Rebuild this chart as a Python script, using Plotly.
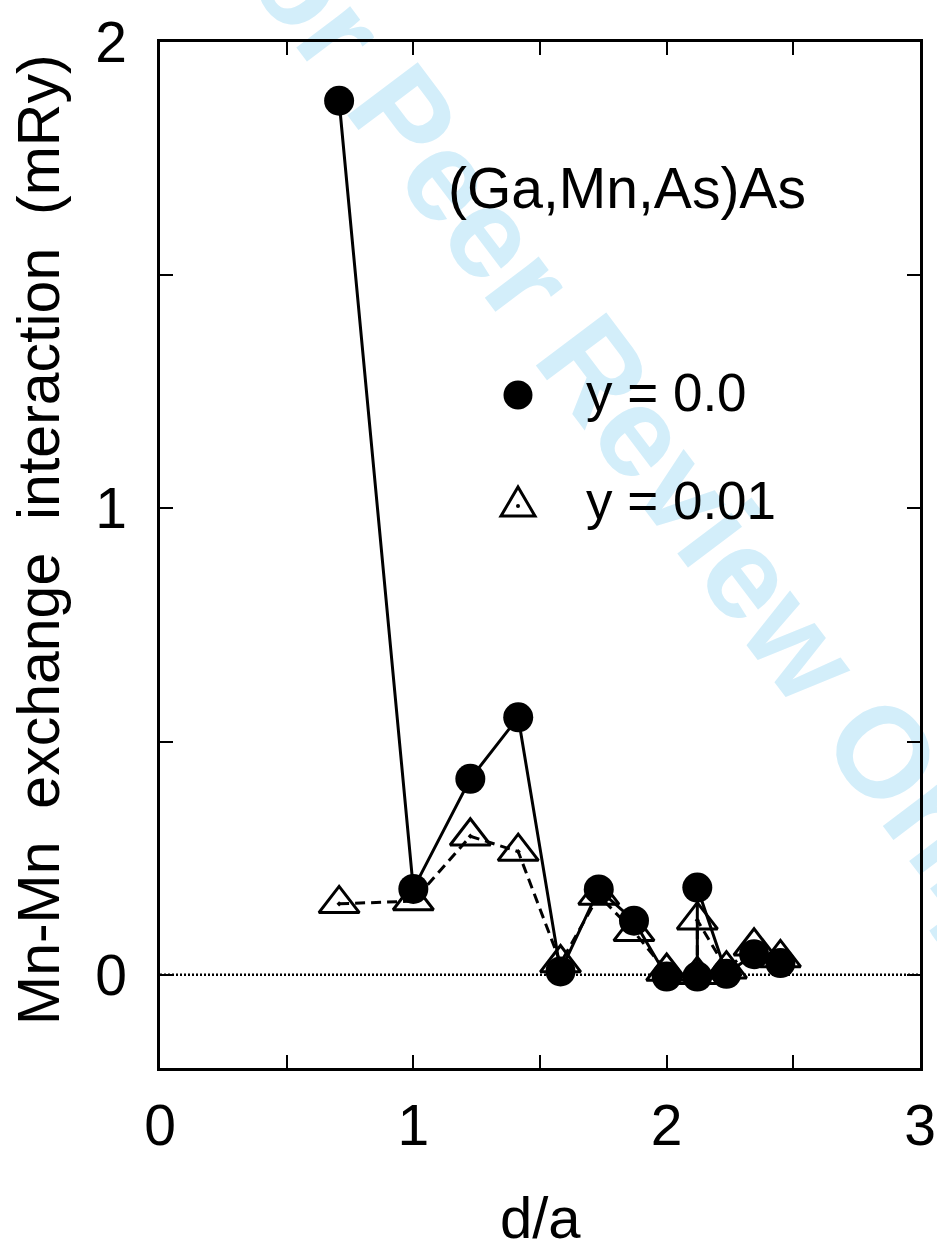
import plotly.graph_objects as go

# ---- data ----
d_circ = [0.707, 1.0, 1.225, 1.414, 1.581, 1.732, 1.871, 2.0, 2.121, 2.121, 2.236, 2.345, 2.449]
j_circ = [1.874, 0.184, 0.420, 0.552, 0.007, 0.183, 0.116, -0.004, -0.004, 0.187, 0.002, 0.044, 0.025]

d_tri = [0.707, 1.0, 1.225, 1.414, 1.581, 1.732, 1.871, 2.0, 2.121, 2.121, 2.236, 2.345, 2.449]
j_tri = [0.152, 0.158, 0.297, 0.264, 0.025, 0.170, 0.092, 0.007, 0.0, 0.117, 0.012, 0.061, 0.036]

legend_labels = ["y = 0.0", "y = 0.01"]
x_ticks = [0, 1, 2, 3]
y_ticks = [0, 1, 2]

FONT = "Liberation Sans, Arial, Helvetica, sans-serif"
W, H = 937, 1247
ML, MT = 160, 42
MR = W - 920
MB = H - 1068
PW, PH = W - ML - MR, H - MT - MB


def px(xp):
    return (xp - ML) / PW


def py(yp):
    return (H - MB - yp) / PH


fig = go.Figure()

fig.add_trace(go.Scatter(
    x=d_tri, y=j_tri, mode="lines+markers", name=legend_labels[1],
    line=dict(color="black", width=3, dash="10px,6px"),
    marker=dict(symbol="triangle-up-open-dot", size=35, color="black",
                line=dict(color="black", width=3)),
    showlegend=False,
))
fig.add_trace(go.Scatter(
    x=d_circ, y=j_circ, mode="lines+markers", name=legend_labels[0],
    line=dict(color="black", width=3),
    marker=dict(symbol="circle", size=30, color="black", line=dict(width=0)),
    showlegend=False,
))

shapes = []
# watermark
shapes.append(dict(
    type="rect", xref="paper", yref="paper",
    x0=px(637), x1=px(639), y0=py(408), y1=py(406),
    line=dict(width=0), fillcolor="rgba(0,0,0,0)", layer="below",
    label=dict(text="For Peer Review Only", textangle=53,
               textposition="middle center",
               font=dict(size=128, color="#d3eefa", family=FONT, weight="bold")),
))
# dotted zero line
shapes.append(dict(
    type="line", xref="paper", yref="y", x0=0, x1=1, y0=0, y1=0,
    line=dict(color="black", width=2.5, dash="2px,2px"), layer="below",
))
# legend symbols
cx, cy, r = 518, 395, 14.5
shapes.append(dict(
    type="circle", xref="paper", yref="paper",
    x0=px(cx - r), x1=px(cx + r), y0=py(cy + r), y1=py(cy - r),
    fillcolor="black", line=dict(color="black", width=0),
))
tx, ty = 518, 503
shapes.append(dict(
    type="path", xref="paper", yref="paper",
    path=(f"M {px(tx - 17)},{py(ty + 13)} L {px(tx + 17)},{py(ty + 13)} "
          f"L {px(tx)},{py(ty - 16)} Z"),
    line=dict(color="black", width=3), fillcolor="rgba(0,0,0,0)",
))
shapes.append(dict(
    type="circle", xref="paper", yref="paper",
    x0=px(tx - 2), x1=px(tx + 2), y0=py(ty + 5), y1=py(ty + 1),
    fillcolor="black", line=dict(width=0),
))

annotations = [
    dict(text="(Ga,Mn,As)As", xref="paper", yref="paper", x=px(446), y=py(188),
         xanchor="left", yanchor="middle", showarrow=False,
         font=dict(size=57, family=FONT, color="black")),
    dict(text=legend_labels[0], xref="paper", yref="paper", x=px(584), y=py(393),
         xanchor="left", yanchor="middle", showarrow=False,
         font=dict(size=53, family=FONT, color="black")),
    dict(text=legend_labels[1], xref="paper", yref="paper", x=px(584), y=py(500),
         xanchor="left", yanchor="middle", showarrow=False,
         font=dict(size=53, family=FONT, color="black")),
    dict(text="Mn-Mn\u00a0\u00a0exchange\u00a0\u00a0interaction\u00a0\u00a0(mRy)",
         xref="paper", yref="paper", x=px(39), y=py(540), textangle=-90,
         xanchor="center", yanchor="middle", showarrow=False,
         font=dict(size=59, family=FONT, color="black")),
    dict(text="d/a", xref="paper", yref="paper", x=px(540), y=py(1217),
         xanchor="center", yanchor="middle", showarrow=False,
         font=dict(size=58, family=FONT, color="black")),
]

axis_common = dict(
    showline=True, linecolor="black", linewidth=2.5, mirror="ticks",
    ticks="inside", ticklen=13, tickwidth=2, tickcolor="black",
    showgrid=False, zeroline=False,
    tickfont=dict(size=57, family=FONT, color="black"),
)

fig.update_layout(
    width=W, height=H,
    margin=dict(l=ML, r=MR, t=MT, b=MB, autoexpand=False),
    paper_bgcolor="white", plot_bgcolor="rgba(0,0,0,0)",
    xaxis=dict(range=[0, 3], tickvals=x_ticks, ticklabelstandoff=6,
               minor=dict(dtick=0.5, ticks="inside", ticklen=13, tickwidth=2,
                          tickcolor="black", showgrid=False),
               **axis_common),
    yaxis=dict(range=[-0.2, 2.0], tickvals=y_ticks, ticklabelstandoff=19,
               minor=dict(tickvals=[0.5, 1.5], ticks="inside", ticklen=13,
                          tickwidth=2, tickcolor="black", showgrid=False),
               **axis_common),
    shapes=shapes,
    annotations=annotations,
    showlegend=False,
)

fig.write_html(
    "out.html",
    config={"displayModeBar": False},
    post_script="document.body.style.margin='0';document.body.style.overflow='hidden';",
)
